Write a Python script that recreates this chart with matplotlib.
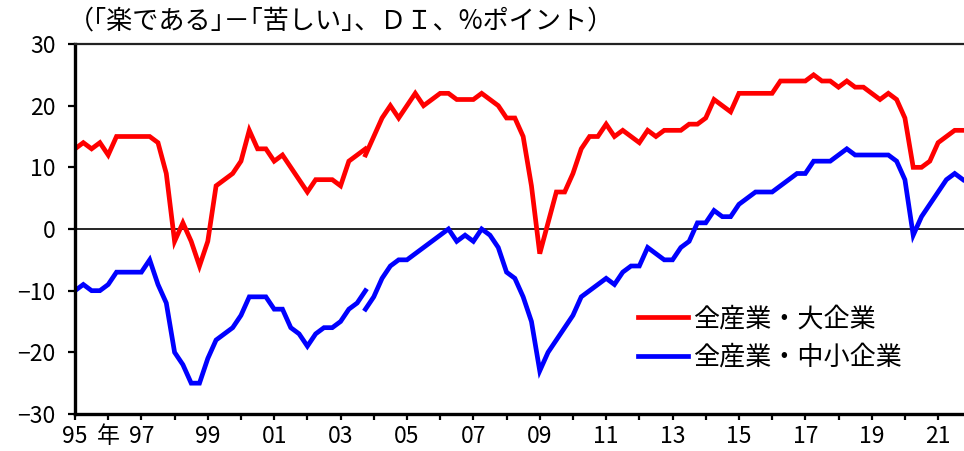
import numpy as np
import matplotlib
matplotlib.use("Agg")
import matplotlib.pyplot as plt

plt.rcParams['font.family'] = ['Noto Sans CJK JP', 'DejaVu Sans']

# quarterly, 1995Q1 - 2003Q4 (old survey basis)
large_old = [13, 14, 13, 14, 12, 15, 15, 15, 15, 15, 14, 9,
             -2, 1, -2, -6, -2, 7, 8, 9, 11, 16, 13, 13,
             11, 12, 10, 8, 6, 8, 8, 8, 7, 11, 12, 13]
small_old = [-10, -9, -10, -10, -9, -7, -7, -7, -7, -5, -9, -12,
             -20, -22, -25, -25, -21, -18, -17, -16, -14, -11, -11, -11,
             -13, -13, -16, -17, -19, -17, -16, -16, -15, -13, -12, -10]

# quarterly, 2003Q4 - 2021Q4 (new survey basis)
large_new = [12, 15, 18, 20, 18, 20, 22, 20, 21, 22, 22, 21, 21,
             21, 22, 21, 20, 18, 18, 15, 7, -4, 1, 6, 6,
             9, 13, 15, 15, 17, 15, 16, 15, 14, 16, 15, 16,
             16, 16, 17, 17, 18, 21, 20, 19, 22, 22, 22, 22,
             22, 24, 24, 24, 24, 25, 24, 24, 23, 24, 23, 23,
             22, 21, 22, 21, 18, 10, 10, 11, 14, 15, 16, 16]
small_new = [-13, -11, -8, -6, -5, -5, -4, -3, -2, -1, 0, -2, -1,
             -2, 0, -1, -3, -7, -8, -11, -15, -23, -20, -18, -16,
             -14, -11, -10, -9, -8, -9, -7, -6, -6, -3, -4, -5,
             -5, -3, -2, 1, 1, 3, 2, 2, 4, 5, 6, 6,
             6, 7, 8, 9, 9, 11, 11, 11, 12, 13, 12, 12,
             12, 12, 12, 11, 8, -1, 2, 4, 6, 8, 9, 8]

years = list(range(1995, 2022))
year_labels = ['95', '年', '97', '', '99', '', '01', '', '03', '', '05', '', '07', '',
               '09', '', '11', '', '13', '', '15', '', '17', '', '19', '', '21']

label_large = '全産業・大企業'
label_small = '全産業・中小企業'
unit_text = '（｢楽である｣－｢苦しい｣、ＤＩ、%ポイント）'

t_old = 1995 + np.arange(len(large_old)) / 4
t_new = 2003.75 + np.arange(len(large_new)) / 4

fig = plt.figure(figsize=(9.64, 4.51), dpi=100)
ax = fig.add_axes([75 / 964, 37 / 451, 889 / 964, 370 / 451])

red = '#ff0000'
blue = '#0000ff'
ax.plot(t_old, large_old, color=red, lw=3.4, solid_joinstyle='miter', label=label_large)
ax.plot(t_new, large_new, color=red, lw=3.4, solid_joinstyle='miter')
ax.plot(t_old, small_old, color=blue, lw=3.4, solid_joinstyle='miter', label=label_small)
ax.plot(t_new, small_new, color=blue, lw=3.4, solid_joinstyle='miter')
ax.axhline(0, color='black', lw=1.2, zorder=1)

ax.set_xlim(1995, 2021.78)
ax.set_ylim(-30, 30)
ax.set_yticks(range(-30, 31, 10))
ax.set_xticks(years)
ax.set_xticklabels(year_labels)

ax.spines['right'].set_visible(False)
ax.spines['left'].set_linewidth(2.4)
ax.spines['bottom'].set_linewidth(2.4)
ax.spines['top'].set_linewidth(1.6)
ax.spines['top'].set_color('#222222')

ax.tick_params(axis='y', direction='out', length=5, width=1.6, labelsize=16.5, pad=9)
ax.tick_params(axis='x', direction='out', length=4, width=1.6, labelsize=16.5, pad=4)

fig.text(68 / 964, 1 - 21 / 451, unit_text, fontsize=18.8, ha='left', va='center')

ax.legend(loc='center left', bbox_to_anchor=(638 / 964, 1 - 338 / 451),
          bbox_transform=fig.transFigure, frameon=False, fontsize=18.8,
          handlelength=1.9, handletextpad=0.2, labelspacing=0.45,
          borderpad=0, borderaxespad=0)

fig.savefig('out.png', dpi=100)
